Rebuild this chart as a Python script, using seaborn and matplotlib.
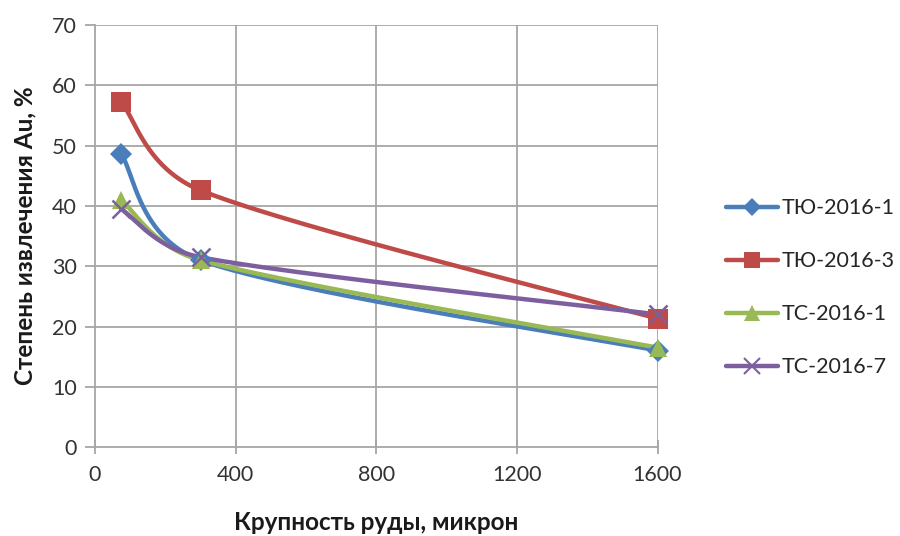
import numpy as np
import pandas as pd
import matplotlib
matplotlib.use("Agg")
import matplotlib.pyplot as plt
from matplotlib.lines import Line2D
import seaborn as sns

# Particle size of ore, microns
size_um = [74, 300, 1600]

# Au recovery, % for each sample
tyu_2016_1 = [48.6, 31.0, 16.0]
tyu_2016_3 = [57.3, 42.6, 21.3]
ts_2016_1 = [41.0, 31.0, 16.5]
ts_2016_7 = [39.5, 31.5, 22.0]

series_names = ["ТЮ-2016-1", "ТЮ-2016-3", "ТС-2016-1", "ТС-2016-7"]
series_values = [tyu_2016_1, tyu_2016_3, ts_2016_1, ts_2016_7]

x_ticks = [0, 400, 800, 1200, 1600]
y_ticks = [0, 10, 20, 30, 40, 50, 60, 70]

colors = ["#4A7EBB", "#BE4B48", "#98B954", "#7D5FA0"]
markers = ["D", "s", "^", "x"]
msizes = [11, 14, 13, 13]

sns.set_theme(style="white")
plt.rcParams["font.family"] = ["Lato", "DejaVu Sans"]

fig = plt.figure(figsize=(9.0, 5.36), dpi=100)
ax = fig.add_axes([0.1056, 0.166, 0.625, 0.787])
ax.set_xlim(0, 1600)
ax.set_ylim(0, 70)

# scale factors so the spline is built in screen proportions
fig.canvas.draw()
bbox = ax.get_window_extent()
sx = bbox.width / 1600.0
sy = bbox.height / 70.0


def smooth_curve(xs, ys, n=80):
    """Bezier smoothing with control arms limited to half a segment."""
    px = np.asarray(xs, float) * sx
    py = np.asarray(ys, float) * sy
    pts = np.column_stack([px, py])
    m = len(pts)
    out = []
    for i in range(m - 1):
        p0 = pts[i - 1] if i > 0 else pts[i]
        p1 = pts[i]
        p2 = pts[i + 1]
        p3 = pts[i + 2] if i + 2 < m else pts[i + 1]
        half = np.linalg.norm(p2 - p1) / 2.0
        a1 = (p2 - p0) / 6.0
        a2 = (p3 - p1) / 6.0
        n1, n2 = np.linalg.norm(a1), np.linalg.norm(a2)
        if n1 > half:
            a1 = a1 * half / n1
        if n2 > half:
            a2 = a2 * half / n2
        c1 = p1 + a1
        c2 = p2 - a2
        t = np.linspace(0, 1, n)[:, None]
        seg = ((1 - t) ** 3) * p1 + 3 * ((1 - t) ** 2) * t * c1 + 3 * (1 - t) * t ** 2 * c2 + t ** 3 * p2
        out.append(seg if i == 0 else seg[1:])
    seg = np.vstack(out)
    return seg[:, 0] / sx, seg[:, 1] / sy


grid_c = "#A6A6A6"
for xv in x_ticks[1:]:
    ax.axvline(xv, color=grid_c, lw=1.3, zorder=0)
for yv in y_ticks[1:]:
    ax.axhline(yv, color=grid_c, lw=1.3, zorder=0)

handles = []
for name, vals, c, mk, ms in zip(series_names, series_values, colors, markers, msizes):
    cx, cy = smooth_curve(size_um, vals)
    curve = pd.DataFrame({"x": cx, "y": cy})
    sns.lineplot(data=curve, x="x", y="y", sort=False, estimator=None, color=c,
                 lw=3.2, ax=ax, zorder=3, solid_capstyle="round")
    pts = pd.DataFrame({"x": size_um, "y": vals})
    if mk == "x":
        ax.plot(pts["x"], pts["y"], ls="none", marker=mk, ms=ms, mew=1.8,
                color=c, zorder=4, clip_on=False)
    else:
        ax.plot(pts["x"], pts["y"], ls="none", marker=mk, ms=ms, mew=0,
                color=c, zorder=4, clip_on=False)
    handles.append(Line2D([], [], color=c, lw=3.2, marker=mk, ms=ms * 0.85,
                          mew=1.5 if mk == "x" else 0, label=name))

ax.set_xticks(x_ticks)
ax.set_yticks(y_ticks)
ax.set_xticklabels([str(v) for v in x_ticks])
ax.set_yticklabels([str(v) for v in y_ticks])

for s in ["top", "right"]:
    ax.spines[s].set_visible(False)
for s in ["left", "bottom"]:
    ax.spines[s].set_color(grid_c)
    ax.spines[s].set_linewidth(1.3)

ax.tick_params(axis="x", direction="inout", length=10, width=1.3, color=grid_c,
               labelsize=15.5, labelcolor="#333333", pad=8, bottom=True)
ax.tick_params(axis="y", direction="out", length=7, width=1.3, color=grid_c,
               labelsize=15.5, labelcolor="#333333", pad=6, left=True)

ax.set_xlabel("Крупность руды, микрон", fontsize=17.5, fontweight="bold",
              color="#1a1a1a", labelpad=19)
ax.set_ylabel("Степень извлечения Au, %", fontsize=17.5, fontweight="bold",
              color="#1a1a1a", labelpad=11)

leg = fig.legend(handles=handles, loc="center left", bbox_to_anchor=(0.785, 0.463),
                 frameon=False, fontsize=15.5, handlelength=2.4, handletextpad=0.2,
                 labelspacing=1.53)
for t in leg.get_texts():
    t.set_color("#262626")

fig.savefig("out.png", dpi=100)
